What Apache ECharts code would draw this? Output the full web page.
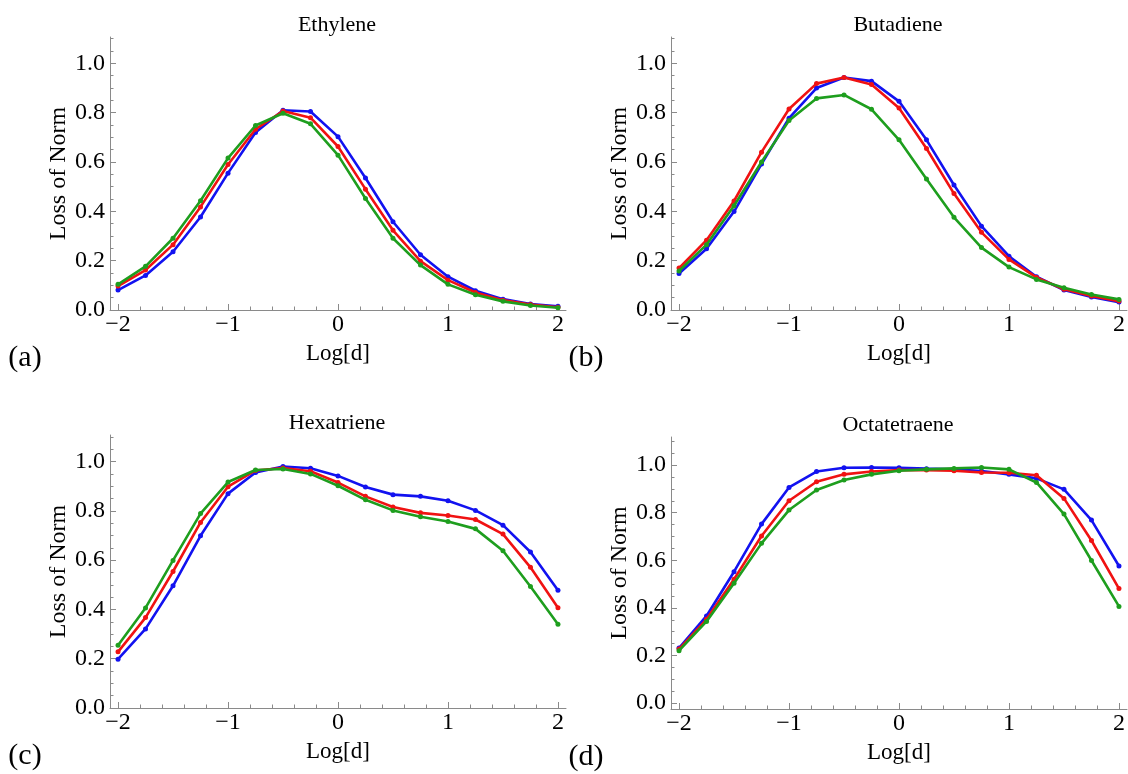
<!DOCTYPE html>
<html>
<head>
<meta charset="utf-8">
<script src="https://cdn.jsdelivr.net/npm/echarts@6/dist/echarts.min.js"></script>
<style>
html,body{margin:0;padding:0;background:#fff;}
#chart{width:1128px;height:774px;}
</style>
</head>
<body>
<div id="chart"></div>
<script>
// ---- data ----
const xVals = [-2, -1.75, -1.5, -1.25, -1, -0.75, -0.5, -0.25, 0, 0.25, 0.5, 0.75, 1, 1.25, 1.5, 1.75, 2];
const panelTitles = ['Ethylene', 'Butadiene', 'Hexatriene', 'Octatetraene'];
const panelLetters = ['(a)', '(b)', '(c)', '(d)'];
const xMajorTicks = [-2, -1, 0, 1, 2];
const yMajorTicks = [0, 0.2, 0.4, 0.6, 0.8, 1.0];

const ethyleneBlue  = [0.081, 0.140, 0.236, 0.377, 0.555, 0.720, 0.810, 0.805, 0.703, 0.535, 0.358, 0.224, 0.135, 0.078, 0.044, 0.024, 0.015];
const ethyleneRed   = [0.097, 0.162, 0.265, 0.418, 0.590, 0.733, 0.807, 0.780, 0.663, 0.490, 0.323, 0.198, 0.121, 0.071, 0.040, 0.022, 0.011];
const ethyleneGreen = [0.104, 0.177, 0.291, 0.443, 0.616, 0.748, 0.798, 0.755, 0.628, 0.452, 0.291, 0.182, 0.104, 0.062, 0.035, 0.018, 0.009];

const butadieneBlue  = [0.148, 0.248, 0.399, 0.592, 0.778, 0.900, 0.943, 0.928, 0.846, 0.690, 0.507, 0.340, 0.218, 0.135, 0.081, 0.053, 0.032];
const butadieneRed   = [0.170, 0.283, 0.442, 0.640, 0.815, 0.918, 0.943, 0.914, 0.819, 0.655, 0.472, 0.315, 0.205, 0.132, 0.084, 0.057, 0.036];
const butadieneGreen = [0.158, 0.265, 0.423, 0.600, 0.768, 0.858, 0.872, 0.814, 0.690, 0.531, 0.376, 0.253, 0.174, 0.124, 0.090, 0.063, 0.043];

const hexatrieneBlue  = [0.198, 0.321, 0.496, 0.699, 0.870, 0.956, 0.980, 0.973, 0.942, 0.897, 0.866, 0.859, 0.841, 0.802, 0.742, 0.633, 0.478];
const hexatrieneRed   = [0.228, 0.367, 0.554, 0.753, 0.898, 0.964, 0.974, 0.961, 0.915, 0.859, 0.816, 0.792, 0.781, 0.765, 0.706, 0.571, 0.407];
const hexatrieneGreen = [0.255, 0.406, 0.599, 0.789, 0.917, 0.966, 0.970, 0.950, 0.902, 0.845, 0.802, 0.776, 0.757, 0.727, 0.638, 0.493, 0.340];

const octatetraeneBlue  = [0.231, 0.366, 0.552, 0.752, 0.906, 0.973, 0.989, 0.990, 0.989, 0.985, 0.982, 0.975, 0.961, 0.944, 0.898, 0.769, 0.576];
const octatetraeneRed   = [0.227, 0.352, 0.520, 0.702, 0.850, 0.930, 0.961, 0.973, 0.979, 0.979, 0.976, 0.969, 0.968, 0.957, 0.860, 0.683, 0.481];
const octatetraeneGreen = [0.220, 0.343, 0.503, 0.671, 0.811, 0.895, 0.937, 0.961, 0.976, 0.982, 0.986, 0.990, 0.982, 0.927, 0.794, 0.599, 0.406];

const seriesColors = ['#1212f0', '#f01212', '#1e9e1e'];
const panelSeries = [
  [ethyleneBlue, ethyleneRed, ethyleneGreen],
  [butadieneBlue, butadieneRed, butadieneGreen],
  [hexatrieneBlue, hexatrieneRed, hexatrieneGreen],
  [octatetraeneBlue, octatetraeneRed, octatetraeneGreen]
];

// ---- layout ----
const FONT = '"Liberation Serif", "DejaVu Serif", serif';
const grids = [
  {left: 110, top: 37,  width: 456, height: 273},
  {left: 671, top: 37,  width: 456, height: 273},
  {left: 110, top: 435, width: 456, height: 273},
  {left: 671, top: 437, width: 456, height: 272}
];
const yRanges = [[0, 1.107], [0, 1.107], [0, 1.108], [-0.025, 1.118]];
const xRange = [-2.073, 2.073];
const axisGray = '#8a8a8a';

function range(a, b, step) {
  const out = [];
  for (let i = 0; a + i * step <= b + 1e-9; i++) out.push(Math.round((a + i * step) * 1000) / 1000);
  return out;
}
const xMinorTicks = range(-2, 2, 0.2);
const yMinorTicks = range(0, 1.1, 0.05);

const xAxes = [], yAxes = [], series = [], graphics = [];
grids.forEach((g, i) => {
  xAxes.push({
    type: 'value', gridIndex: i, position: 'bottom', min: xRange[0], max: xRange[1],
    name: 'Log[d]', nameLocation: 'middle', nameGap: 32,
    nameTextStyle: {fontFamily: FONT, fontSize: 23, color: '#000'},
    axisLine: {show: true, onZero: false, lineStyle: {color: axisGray, width: 1}},
    axisTick: {show: true, inside: true, length: 6, customValues: xMajorTicks, lineStyle: {color: axisGray}},
    axisLabel: {show: true, customValues: xMajorTicks, margin: 3, fontFamily: FONT, fontSize: 24, color: '#000',
      formatter: v => (v < 0 ? '\u2212' + Math.abs(v) : String(v))},
    splitLine: {show: false}
  });
  xAxes.push({
    type: 'value', gridIndex: i, position: 'bottom', offset: 0, min: xRange[0], max: xRange[1],
    axisLine: {show: false, onZero: false},
    axisTick: {show: true, inside: true, length: 3.5, customValues: xMinorTicks, lineStyle: {color: axisGray}},
    axisLabel: {show: false}, splitLine: {show: false}
  });
  yAxes.push({
    type: 'value', gridIndex: i, position: 'left', min: yRanges[i][0], max: yRanges[i][1],
    name: 'Loss of Norm', nameLocation: 'middle', nameGap: 37,
    nameTextStyle: {fontFamily: FONT, fontSize: 24, color: '#000'},
    axisLine: {show: true, onZero: false, lineStyle: {color: axisGray, width: 1}},
    axisTick: {show: true, inside: true, length: 6, customValues: yMajorTicks, lineStyle: {color: axisGray}},
    axisLabel: {show: true, customValues: yMajorTicks, margin: 5, fontFamily: FONT, fontSize: 24, color: '#000',
      formatter: v => v.toFixed(1)},
    splitLine: {show: false}
  });
  yAxes.push({
    type: 'value', gridIndex: i, position: 'left', offset: 0, min: yRanges[i][0], max: yRanges[i][1],
    axisLine: {show: false, onZero: false},
    axisTick: {show: true, inside: true, length: 3.5, customValues: yMinorTicks, lineStyle: {color: axisGray}},
    axisLabel: {show: false}, splitLine: {show: false}
  });
  panelSeries[i].forEach((vals, k) => {
    series.push({
      type: 'line', xAxisIndex: 2 * i, yAxisIndex: 2 * i,
      data: xVals.map((x, j) => [x, vals[j]]),
      symbol: 'circle', symbolSize: 5, showSymbol: true,
      lineStyle: {color: seriesColors[k], width: 2.6},
      itemStyle: {color: seriesColors[k]},
      z: 2 + k, animation: false, silent: true
    });
  });
  graphics.push({
    type: 'text', x: g.left + g.width / 2 - 1, y: g.top - 12,
    style: {text: panelTitles[i], font: '22px ' + FONT, fill: '#000', textAlign: 'center', textVerticalAlign: 'middle'}
  });
  graphics.push({
    type: 'text', x: g.left - 85, y: g.top + g.height + 48,
    style: {text: panelLetters[i], font: '30px ' + FONT, fill: '#000', textAlign: 'center', textVerticalAlign: 'middle'}
  });
});

const chart = echarts.init(document.getElementById('chart'), null, {renderer: 'canvas'});
chart.setOption({
  backgroundColor: '#fff',
  animation: false,
  grid: grids.map(g => Object.assign({containLabel: false}, g)),
  xAxis: xAxes,
  yAxis: yAxes,
  series: series,
  graphic: graphics
});
</script>
</body>
</html>
